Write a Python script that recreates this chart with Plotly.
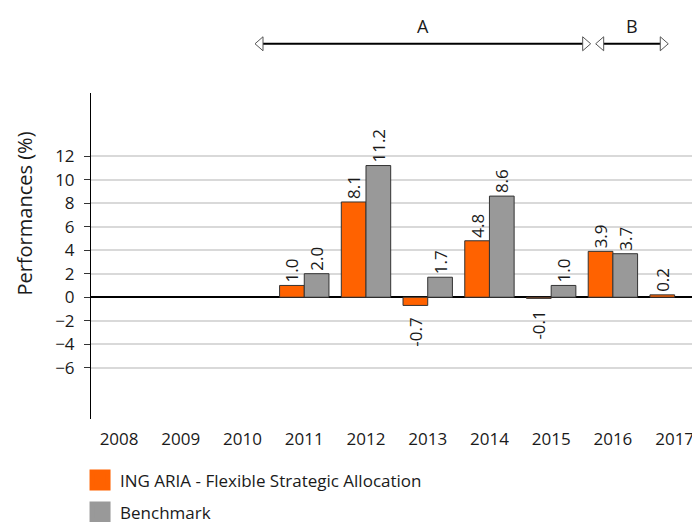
import plotly.graph_objects as go

years = ["2008", "2009", "2010", "2011", "2012", "2013", "2014", "2015", "2016", "2017"]
fund = [None, None, None, 1.0, 8.1, -0.7, 4.8, -0.1, 3.9, 0.2]
benchmark = [None, None, None, 2.0, 11.2, 1.7, 8.6, 1.0, 3.7, None]
y_ticks = [-6, -4, -2, 0, 2, 4, 6, 8, 10, 12]
series_names = ["ING ARIA - Flexible Strategic Allocation", "Benchmark"]

ORANGE = "#FF6200"
GREY = "#999999"
FONT = "Open Sans"
TXT = "#1a1a1a"

fig = go.Figure()
for name, vals, col in [(series_names[0], fund, ORANGE), (series_names[1], benchmark, GREY)]:
    fig.add_trace(go.Bar(
        x=years, y=vals, name=name, showlegend=False,
        marker=dict(color=col, line=dict(color="#333333", width=1)),
        texttemplate="%{y:.1f}\u00a0\u00a0", textposition="outside", textangle=-90,
        constraintext="none", cliponaxis=False,
        textfont=dict(family=FONT, size=17, color=TXT),
    ))

# legend entries (bigger square symbols)
for i, (name, col) in enumerate([(series_names[0], ORANGE), (series_names[1], GREY)]):
    fig.add_trace(go.Scatter(
        x=[None], y=[None], mode="markers", name=name, legendgroup=f"g{i}",
        marker=dict(symbol="square", size=16, color=col, line=dict(color=col, width=5)),
    ))

# period arrows
shapes = []
arrow_y = 1.151
spans = [(0.2693, 0.8205), (0.8287, 0.9479)]
for x0, x1 in spans:
    shapes.append(dict(type="line", xref="paper", yref="paper", x0=x0 + 7.5 / 609, x1=x1 - 7.5 / 609,
                       y0=arrow_y, y1=arrow_y, line=dict(color="black", width=2)))
    shapes.append(dict(type="path", xref="paper", yref="paper", xsizemode="pixel", ysizemode="pixel",
                       xanchor=x0, yanchor=arrow_y, path="M0,0 L8,7 L8,-7 Z",
                       fillcolor="white", line=dict(color="#555555", width=1)))
    shapes.append(dict(type="path", xref="paper", yref="paper", xsizemode="pixel", ysizemode="pixel",
                       xanchor=x1, yanchor=arrow_y, path="M0,0 L-8,7 L-8,-7 Z",
                       fillcolor="white", line=dict(color="#555555", width=1)))

annotations = [
    dict(text="A", xref="paper", yref="paper", x=(spans[0][0] + spans[0][1]) / 2, y=1.207,
         xanchor="center", yanchor="middle",
         showarrow=False, font=dict(family=FONT, size=18, color=TXT)),
    dict(text="B", xref="paper", yref="paper", x=(spans[1][0] + spans[1][1]) / 2, y=1.207,
         xanchor="center", yanchor="middle",
         showarrow=False, font=dict(family=FONT, size=18, color=TXT)),
    dict(text="Performances (%)", xref="paper", yref="paper", x=-0.1084, y=0.63, textangle=-90,
         xanchor="center", yanchor="middle",
         showarrow=False, font=dict(family=FONT, size=20, color=TXT)),
]

fig.update_layout(
    width=692, height=514,
    margin=dict(l=83, r=0, t=85, b=103, autoexpand=False),
    paper_bgcolor="white", plot_bgcolor="white",
    barmode="group", bargap=0.2, bargroupgap=0,
    font=dict(family=FONT, size=16, color=TXT),
    shapes=shapes, annotations=annotations,
    showlegend=True,
    legend=dict(x=-0.018, y=-0.133, xanchor="left", yanchor="top", itemsizing="trace",
                tracegroupgap=7, traceorder="grouped",
                font=dict(family=FONT, size=17, color=TXT), bgcolor="rgba(0,0,0,0)"),
    xaxis=dict(type="category", categoryorder="array", categoryarray=years,
               range=[-0.455, 9.411], showgrid=False, showline=False, ticks="",
               ticklabelstandoff=8, tickfont=dict(family=FONT, size=17, color=TXT), zeroline=False),
    yaxis=dict(range=[-10.36, 17.37], tickvals=y_ticks, showgrid=True, gridcolor="#d9d9d9", gridwidth=1.5,
               showline=True, linecolor="black", linewidth=1, ticks="outside", ticklen=6,
               tickcolor="#333333", ticklabelstandoff=6,
               zeroline=True, zerolinecolor="black", zerolinewidth=1.5,
               tickfont=dict(family=FONT, size=17, color=TXT)),
)

fig.write_html("out.html")
